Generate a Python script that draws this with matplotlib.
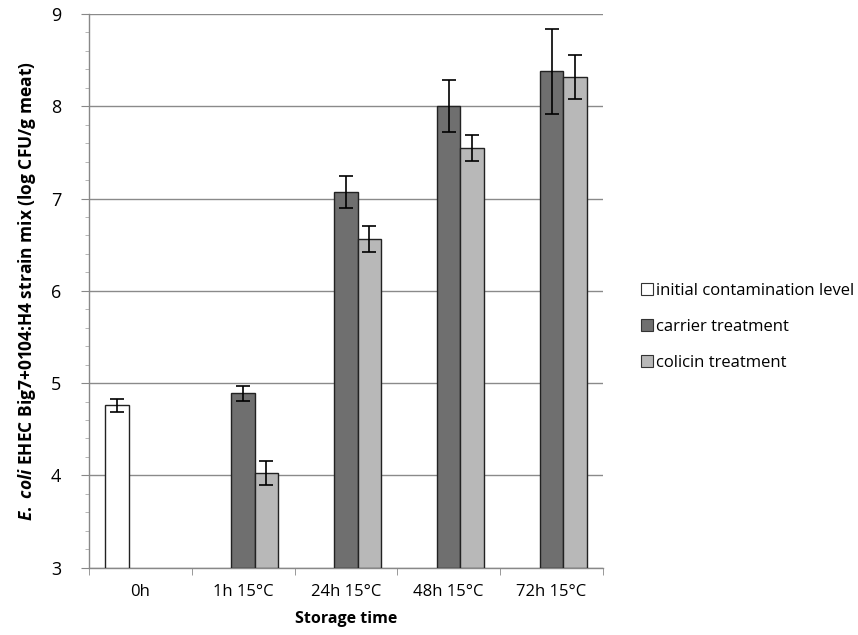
import numpy as np
import matplotlib
matplotlib.use('Agg')
import matplotlib.pyplot as plt
from matplotlib.ticker import MultipleLocator, FixedLocator
from matplotlib.patches import Patch

plt.rc('font', family=['Open Sans', 'DejaVu Sans'])
plt.rc('mathtext', fontset='custom', it='Open Sans:italic:bold', rm='Open Sans:bold')

#### data
categories = ['0h', '1h 15°C', '24h 15°C', '48h 15°C', '72h 15°C']
series_names = ['initial contamination level', 'carrier treatment', 'colicin treatment']

initial = [4.76, np.nan, np.nan, np.nan, np.nan]
initial_err = [0.07, 0, 0, 0, 0]
carrier = [np.nan, 4.89, 7.07, 8.00, 8.38]
carrier_err = [0, 0.08, 0.17, 0.28, 0.46]
colicin = [np.nan, 4.03, 6.56, 7.55, 8.32]
colicin_err = [0, 0.13, 0.14, 0.14, 0.24]

colors = ['white', '#6f6f6f', '#b8b8b8']

#### figure
fig = plt.figure(figsize=(8.58, 6.35), dpi=100)
ax = fig.add_axes([0.1037, 0.106, 0.599, 0.872])

x = np.arange(len(categories))
w = 0.227
values = [initial, carrier, colicin]
errors = [initial_err, carrier_err, colicin_err]

for i, (vals, errs, col) in enumerate(zip(values, errors, colors)):
    vals = np.array(vals, dtype=float)
    errs = np.array(errs, dtype=float)
    mask = ~np.isnan(vals)
    pos = x[mask] + (i - 1) * w
    ax.bar(pos, vals[mask] - 3, bottom=3, width=w, color=col,
           edgecolor='#222222', lw=1.0, zorder=3)
    ax.errorbar(pos, vals[mask], yerr=errs[mask], fmt='none', ecolor='black',
                elinewidth=1.2, capsize=5, capthick=1.2, zorder=4)

ax.set_xlim(-0.5, len(categories) - 0.5)
ax.set_ylim(3, 9)

ax.yaxis.set_major_locator(MultipleLocator(1))
ax.yaxis.set_minor_locator(MultipleLocator(0.2))
ax.yaxis.grid(True, which='major', color='#8a8a8a', lw=1.0, zorder=0)

ax.set_xticks(x)
ax.set_xticklabels(categories, fontsize=12)
ax.xaxis.set_minor_locator(FixedLocator(np.arange(-0.5, len(categories), 1.0)))
ax.tick_params(axis='x', which='major', length=0, pad=12)
ax.tick_params(axis='x', which='minor', length=5, color='#888888', direction='out')
ax.tick_params(axis='y', which='major', length=6, color='#888888', labelsize=13, pad=14)
ax.tick_params(axis='y', which='minor', length=3, color='#aaaaaa')

for side in ['top', 'right']:
    ax.spines[side].set_visible(False)
for side in ['left', 'bottom']:
    ax.spines[side].set_color('#888888')
    ax.spines[side].set_linewidth(1.0)

ax.set_xlabel('Storage time', fontsize=11.5, fontweight='bold', labelpad=8)
ax.set_ylabel(r'$\it{E.\ coli}$ EHEC Big7+0104:H4 strain mix (log CFU/g meat)',
              fontsize=12.5, fontweight='bold', labelpad=9)

handles = [Patch(facecolor=c, edgecolor='#333333', lw=0.8) for c in colors]
fig.legend(handles, series_names, loc='center left', bbox_to_anchor=(0.73, 0.485),
           frameon=False, fontsize=12, handlelength=0.7, handleheight=0.7,
           handletextpad=0.15, labelspacing=1.2)

plt.savefig('out.png', dpi=100)
